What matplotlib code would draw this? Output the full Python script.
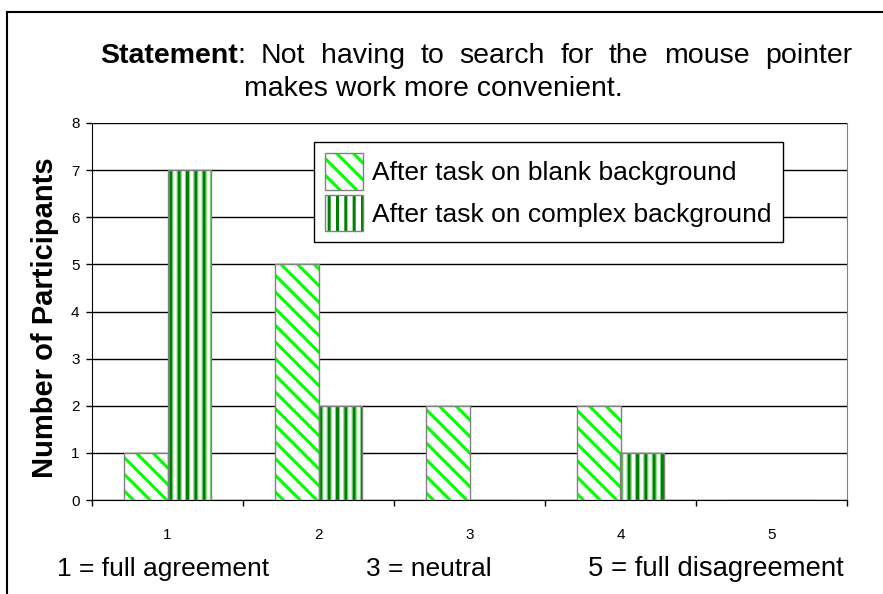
import matplotlib
matplotlib.use("Agg")
import matplotlib.pyplot as plt
from matplotlib.lines import Line2D
from matplotlib.patches import Patch
from matplotlib.legend_handler import HandlerTuple
import numpy as np

plt.rcParams["font.family"] = ["Liberation Sans", "DejaVu Sans"]
plt.rcParams["hatch.linewidth"] = 2.2

categories = [1, 2, 3, 4, 5]
blank_counts = [1, 5, 2, 2, 0]
complex_counts = [7, 2, 0, 1, 0]
series_labels = ["After task on blank background", "After task on complex background"]
title_bold = "Statement"
title_line1 = ": Not having to search for the mouse pointer"
title_line2 = "makes work more convenient."
scale_notes = ["1 = full agreement", "3 = neutral", "5 = full disagreement"]

W, H = 883, 594
fig = plt.figure(figsize=(W / 100, H / 100), dpi=100)
ax = fig.add_axes([92 / W, (H - 500) / H, (847 - 92) / W, (500 - 123) / H])

x = np.array(categories, dtype=float)
bw = 0.29
lime = "#00ff00"
dgreen = "#008000"
pale = "#66dd66"
edge = "#808080"

ax.bar(x - bw / 2, blank_counts, bw, color="white", edgecolor=lime,
       hatch="\\\\", linewidth=0, zorder=3)
with plt.rc_context({"hatch.linewidth": 0.7}):
    ax.bar(x + bw / 2, complex_counts, bw, color="white", edgecolor=pale,
           hatch="||||", linewidth=0, zorder=3)
ax.bar(x + bw / 2, complex_counts, bw, color="none", edgecolor=dgreen,
       hatch="||", linewidth=0, zorder=3)
ax.bar(x - bw / 2, blank_counts, bw, fill=False, edgecolor=edge, linewidth=1, zorder=4)
ax.bar(x + bw / 2, complex_counts, bw, fill=False, edgecolor=edge, linewidth=1, zorder=4)

ax.set_xlim(0.5, 5.5)
ax.set_ylim(0, 8)
ax.set_yticks(range(9))
ax.yaxis.grid(True, color="black", linewidth=1)
ax.set_axisbelow(True)
ax.tick_params(axis="y", direction="out", length=4, width=1, pad=5, labelsize=11)

ax.set_xticks(np.arange(0.5, 5.6, 1.0))
ax.set_xticklabels([])
ax.set_xticks(x, minor=True)
ax.set_xticklabels([str(c) for c in categories], minor=True)
ax.tick_params(axis="x", which="major", direction="out", length=4, width=1)
ax.tick_params(axis="x", which="minor", length=0, pad=20, labelsize=11)

ax.spines["top"].set_visible(False)
ax.spines["right"].set_color(edge)
ax.spines["left"].set_color("black")
ax.spines["bottom"].set_color("black")

ax.set_ylabel("Number of Participants", fontsize=21, fontweight="bold")
ax.yaxis.set_label_coords(-0.044, 0.483)

# legend: hatch patch with grey outline on top
out1 = Patch(facecolor="none", edgecolor=edge, linewidth=1)
out2 = Patch(facecolor="none", edgecolor=edge, linewidth=1)
h1 = Patch(facecolor="white", edgecolor=lime, hatch="\\\\", linewidth=0)
h2 = Patch(facecolor="white", edgecolor=dgreen, hatch="||", linewidth=0)
leg = fig.legend([(h1, out1), (h2, out2)], series_labels,
                 handler_map={tuple: HandlerTuple(ndivide=1)},
                 loc="upper left", bbox_to_anchor=(314 / W, 1 - 142 / H),
                 bbox_transform=fig.transFigure, borderaxespad=0,
                 fontsize=19, frameon=True, fancybox=False, framealpha=1,
                 edgecolor="black", handlelength=1.44, handleheight=1.75,
                 handletextpad=0.35, labelspacing=0.2, borderpad=0.42)
leg.get_frame().set_linewidth(1)

# title: bold lead word, first line justified
fig.canvas.draw()
r = fig.canvas.get_renderer()
y1 = 1 - 63 / H
y2 = 1 - 96 / H
tfs = 20.5
words = title_line1.split()
lead = fig.text(0, y1, title_bold, fontsize=tfs, fontweight="bold", va="baseline")
parts = [fig.text(0, y1, w, fontsize=tfs, va="baseline") for w in words]
lead_w = lead.get_window_extent(r).width
widths = [p.get_window_extent(r).width for p in parts]
left, right = 100, 852
first_w = lead_w + widths[0]
gap = (right - left - first_w - sum(widths[1:])) / (len(words) - 1)
lead.set_x(left / W)
pos = left + lead_w
parts[0].set_x(pos / W)
pos += widths[0]
for p, w in zip(parts[1:], widths[1:]):
    pos += gap
    p.set_x(pos / W)
    pos += w
fig.text(244 / W, y2, title_line2, fontsize=tfs, ha="left", va="baseline")

# scale notes under the axis
note_x = [57, 366, 588]
note_fs = [19, 19, 19.8]
for nx, fs, s in zip(note_x, note_fs, scale_notes):
    fig.text(nx / W, 1 - 569 / H, s, fontsize=fs, va="center", ha="left")

# outer frame
fig.add_artist(Line2D([7.5 / W, 7.5 / W], [0, 1 - 12 / H], color="black", linewidth=1.5,
                      transform=fig.transFigure))
fig.add_artist(Line2D([7.5 / W, 1], [1 - 12 / H, 1 - 12 / H], color="black", linewidth=1.5,
                      transform=fig.transFigure))

fig.savefig("out.png", dpi=100)
